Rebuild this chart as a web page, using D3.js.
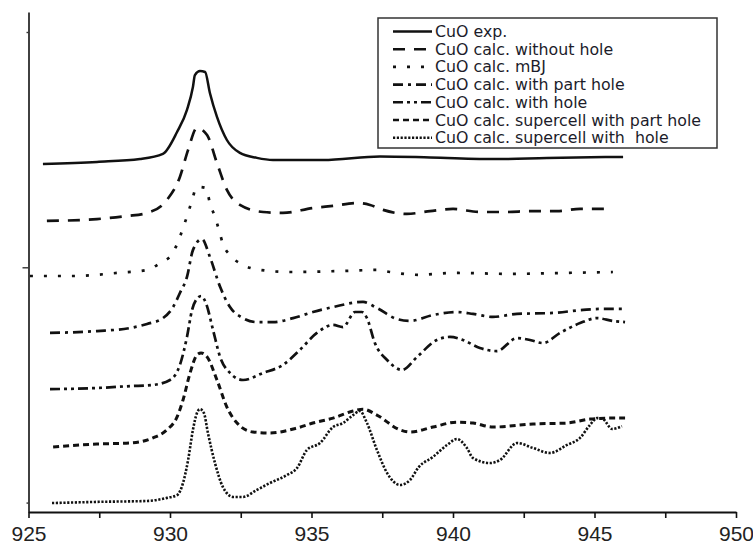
<!DOCTYPE html>
<html>
<head>
<meta charset="utf-8">
<script src="https://cdn.jsdelivr.net/npm/d3@7"></script>
<style>
  html, body { margin: 0; padding: 0; background: #fff; }
  svg { display: block; }
  .legend text { font-family: "DejaVu Sans", sans-serif; font-size: 15.8px; fill: #1c1c2a; white-space: pre; }
  .x-axis text { font-family: "Liberation Sans", Arial, sans-serif; font-size: 21px; fill: #222; }
</style>
</head>
<body>
<svg width="753" height="546"></svg>
<script>
// series names (legend order, top to bottom in the stack)
const seriesNames = [
  "CuO exp.",
  "CuO calc. without hole",
  "CuO calc. mBJ",
  "CuO calc. with part hole",
  "CuO calc. with hole",
  "CuO calc. supercell with part hole",
  "CuO calc. supercell with  hole",
];

// [energy eV, intensity (stacked, arb. units)]
const expData = [
  [925.51, 1.439], [927.42, 1.448], [928.94, 1.46], [929.75, 1.482], [930.25, 1.575],
  [930.6, 1.669], [930.81, 1.766], [930.88, 1.817], [931.06, 1.834], [931.24, 1.83],
  [931.41, 1.741], [931.66, 1.639], [932.01, 1.541], [932.47, 1.486], [933.07, 1.465],
  [933.64, 1.456], [935.41, 1.456], [937.42, 1.471], [939.19, 1.467], [941.55, 1.46],
  [943.32, 1.465], [946.01, 1.469],
];
const noHoleData = [
  [925.65, 1.197], [927.42, 1.205], [928.48, 1.218], [929.19, 1.231], [929.89, 1.286],
  [930.35, 1.384], [930.64, 1.499], [930.95, 1.592], [931.31, 1.562], [931.66, 1.443],
  [932.01, 1.329], [932.47, 1.265], [933.29, 1.235], [933.99, 1.231], [935.05, 1.252],
  [935.76, 1.261], [936.64, 1.273], [937.07, 1.265], [937.53, 1.244], [938.37, 1.227],
  [939.19, 1.239], [940.0, 1.248], [940.95, 1.235], [941.91, 1.235], [942.72, 1.239],
  [943.67, 1.239], [944.49, 1.248], [945.37, 1.248],
];
const mbjData = [
  [925.05, 0.963], [926.57, 0.963], [928.13, 0.976], [929.19, 0.989], [929.65, 1.018],
  [930.07, 1.056], [930.28, 1.107], [930.46, 1.167], [930.64, 1.231], [930.78, 1.286],
  [930.95, 1.342], [931.27, 1.337], [931.41, 1.273], [931.59, 1.214], [931.73, 1.159],
  [931.87, 1.099], [932.12, 1.052], [932.58, 1.01], [933.18, 0.989], [934.24, 0.98],
  [936.25, 0.985], [937.31, 0.989], [937.77, 0.98], [938.79, 0.968], [940.0, 0.976],
  [942.12, 0.972], [943.89, 0.976], [945.65, 0.98],
];
const partHoleData = [
  [925.76, 0.721], [927.42, 0.729], [928.59, 0.742], [929.19, 0.759], [929.75, 0.784],
  [930.11, 0.831], [930.35, 0.891], [930.6, 0.959], [930.81, 1.073], [931.13, 1.12],
  [931.41, 1.044], [931.77, 0.917], [932.12, 0.831], [932.58, 0.784], [933.07, 0.767],
  [933.64, 0.767], [934.35, 0.784], [935.05, 0.81], [935.76, 0.831], [936.82, 0.853],
  [937.31, 0.827], [938.02, 0.78], [938.48, 0.772], [939.29, 0.797], [940.14, 0.81],
  [940.71, 0.802], [941.41, 0.789], [942.26, 0.802], [943.53, 0.806], [944.6, 0.819],
  [945.2, 0.823], [946.08, 0.823],
];
const holeData = [
  [925.76, 0.482], [927.42, 0.487], [928.59, 0.495], [929.4, 0.5], [930.0, 0.521],
  [930.35, 0.585], [930.6, 0.704], [930.78, 0.819], [930.92, 0.861], [931.1, 0.878],
  [931.27, 0.848], [931.52, 0.734], [931.77, 0.619], [932.12, 0.551], [932.58, 0.521],
  [933.29, 0.551], [933.99, 0.585], [934.59, 0.649], [935.19, 0.721], [935.76, 0.755],
  [936.11, 0.746], [936.54, 0.81], [936.78, 0.81], [936.96, 0.784], [937.24, 0.678],
  [937.67, 0.606], [938.2, 0.564], [938.73, 0.619], [939.43, 0.691], [939.89, 0.704],
  [940.35, 0.691], [940.95, 0.657], [941.55, 0.644], [942.26, 0.699], [942.72, 0.691],
  [943.18, 0.678], [943.78, 0.721], [944.49, 0.763], [945.09, 0.784], [945.65, 0.772],
  [946.08, 0.767],
];
const superPartData = [
  [925.87, 0.236], [927.42, 0.249], [928.59, 0.253], [929.4, 0.275], [929.89, 0.309],
  [930.25, 0.364], [930.46, 0.436], [930.71, 0.551], [930.95, 0.627], [931.1, 0.636],
  [931.31, 0.619], [931.66, 0.521], [932.01, 0.406], [932.37, 0.338], [932.93, 0.3],
  [933.53, 0.296], [934.49, 0.317], [935.05, 0.338], [935.76, 0.359], [936.47, 0.389],
  [936.82, 0.397], [937.31, 0.372], [938.13, 0.309], [938.48, 0.3], [939.29, 0.321],
  [940.14, 0.342], [940.71, 0.338], [941.41, 0.321], [942.83, 0.334], [944.03, 0.338],
  [944.84, 0.355], [945.55, 0.359], [946.08, 0.359],
];
const superHoleData = [
  [925.83, -0.002], [927.42, 0.003], [929.19, 0.007], [929.89, 0.02], [930.25, 0.032],
  [930.46, 0.083], [930.64, 0.181], [930.81, 0.309], [930.95, 0.38], [931.06, 0.397],
  [931.2, 0.38], [931.34, 0.296], [931.59, 0.168], [931.87, 0.066], [932.23, 0.024],
  [932.58, 0.024], [933.07, 0.054], [933.53, 0.083], [934.13, 0.117], [934.49, 0.147],
  [934.84, 0.224], [935.3, 0.253], [935.76, 0.321], [936.11, 0.338], [936.47, 0.372],
  [936.71, 0.389], [936.96, 0.338], [937.31, 0.224], [937.67, 0.126], [938.13, 0.075],
  [938.48, 0.096], [938.79, 0.151], [939.29, 0.194], [939.79, 0.245], [940.14, 0.27],
  [940.49, 0.232], [940.71, 0.189], [941.31, 0.168], [941.66, 0.181], [942.26, 0.253],
  [942.83, 0.232], [943.43, 0.211], [944.03, 0.245], [944.49, 0.275], [944.84, 0.33],
  [945.09, 0.359], [945.3, 0.355], [945.62, 0.313], [945.97, 0.325],
];

const xTicks = [925, 927.5, 930, 932.5, 935, 937.5, 940, 942.5, 945, 947.5, 950];
const xTickLabels = ["925", "930", "935", "940", "945", "950"];
const yTicks = [0, 1, 2];

const allSeries = [expData, noHoleData, mbjData, partHoleData, holeData, superPartData, superHoleData];

// line styles per series
const styles = [
  { dash: null, width: 2.5 },
  { dash: "12,9", width: 2.7 },
  { dash: "3,11", width: 2.7 },
  { dash: "10,5,3,5", width: 2.7 },
  { dash: "10,4,3,4,3,4", width: 2.7 },
  { dash: "6,4", width: 3 },
  { dash: "2.2,1.6", width: 2.6 },
];

const svg = d3.select("svg");

const x = d3.scaleLinear().domain([925, 950]).range([28.5, 736]);
const y = d3.scaleLinear().domain([-0.04, 2.085]).range([512, 12]);

const line = d3
  .line()
  .x((d) => x(d[0]))
  .y((d) => y(d[1]))
  .curve(d3.curveMonotoneX);

// curves
svg
  .append("g")
  .attr("class", "curves")
  .selectAll("path")
  .data(allSeries)
  .enter()
  .append("path")
  .attr("d", line)
  .attr("fill", "none")
  .attr("stroke", "#111")
  .attr("stroke-width", (d, i) => styles[i].width)
  .attr("stroke-dasharray", (d, i) => styles[i].dash)
  .attr("stroke-linejoin", "round");

// x axis
const xAxis = svg
  .append("g")
  .attr("class", "x-axis")
  .attr("transform", "translate(0,512)")
  .call(
    d3
      .axisBottom(x)
      .tickValues(xTicks)
      .tickSize(6)
      .tickSizeOuter(0)
      .tickFormat((d) => (xTickLabels.includes(String(d)) ? String(d) : ""))
  );
xAxis.select(".domain").attr("stroke", "#111").attr("stroke-width", 1.8);
xAxis.selectAll(".tick line").attr("stroke", "#111").attr("stroke-width", 1.6);
xAxis.selectAll(".tick text").attr("y", 29).attr("dy", 0);

// y axis (no labels)
const yAxis = svg
  .append("g")
  .attr("class", "y-axis")
  .attr("transform", "translate(28.5,0)")
  .call(d3.axisLeft(y).tickValues(yTicks).tickSize(6).tickSizeOuter(0).tickFormat(""));
yAxis.select(".domain").attr("stroke", "#111").attr("stroke-width", 1.6);
yAxis
  .selectAll(".tick line")
  .attr("stroke", "#333")
  .attr("stroke-width", 1.4)
  .attr("x2", (d) => (d === 1 ? -6 : -2));

// legend
const legend = svg.append("g").attr("class", "legend");
legend
  .append("rect")
  .attr("x", 378)
  .attr("y", 18)
  .attr("width", 339)
  .attr("height", 130)
  .attr("fill", "#fff")
  .attr("stroke", "#333")
  .attr("stroke-width", 1.5);

const rows = legend
  .selectAll("g.row")
  .data(seriesNames)
  .enter()
  .append("g")
  .attr("class", "row")
  .attr("transform", (d, i) => `translate(0,${31.5 + i * 17.7})`);

rows
  .append("line")
  .attr("x1", 393)
  .attr("x2", 432)
  .attr("stroke", "#111")
  .attr("stroke-width", (d, i) => Math.min(styles[i].width, 2.6))
  .attr("stroke-dasharray", (d, i) => styles[i].dash);

rows
  .append("text")
  .attr("x", 435)
  .attr("dy", "0.35em")
  .text((d) => d);
</script>
</body>
</html>
